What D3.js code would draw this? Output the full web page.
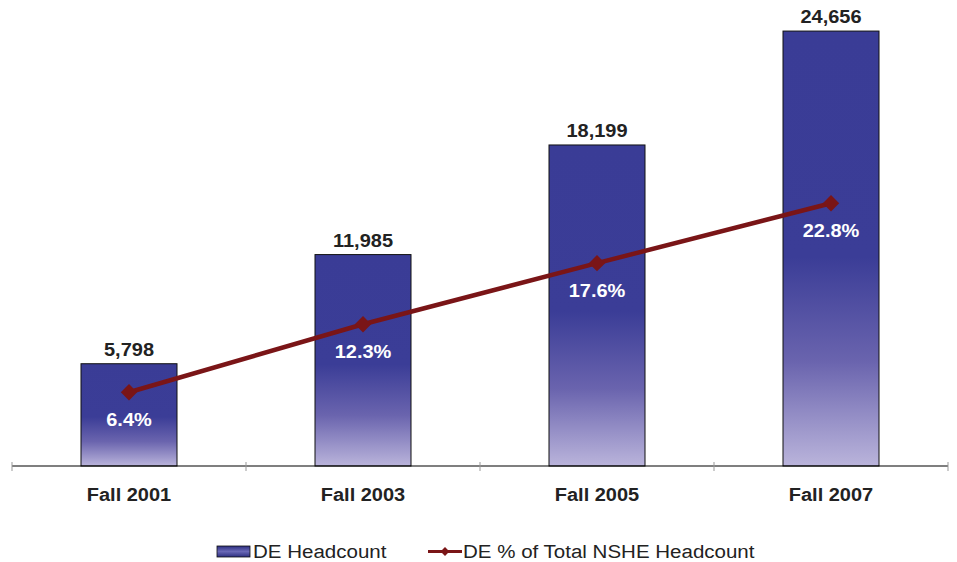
<!DOCTYPE html>
<html>
<head>
<meta charset="utf-8">
<script src="https://cdn.jsdelivr.net/npm/d3@7"></script>
<style>
  body { margin: 0; background: #fff; }
  text { font-family: Arial, "Liberation Sans", sans-serif; }
</style>
</head>
<body>
<div id="chart"></div>
<script>
// data
const categories = ["Fall 2001", "Fall 2003", "Fall 2005", "Fall 2007"];
const headcount = [5798, 11985, 18199, 24656];
const pctOfTotal = [6.4, 12.3, 17.6, 22.8];

const width = 957, height = 562;
const left = 12, right = 948, base = 466;
const stretch = 1.08; // the original text is a bit wide

const svg = d3.select("#chart").append("svg")
    .attr("width", width)
    .attr("height", height);

const x = d3.scaleBand()
    .domain(categories)
    .range([left, right])
    .paddingInner(0)
    .paddingOuter(0);

const y = d3.scaleLinear().domain([0, 25000]).range([base, 25]);
const y2 = d3.scaleLinear().domain([0, 40]).range([base, 5]);

const cx = (d, i) => x(categories[i]) + x.bandwidth() / 2;
const at = (px, py) => `translate(${px},${py}) scale(${stretch},1)`;

const defs = svg.append("defs");
const grad = defs.append("linearGradient")
    .attr("id", "barFill")
    .attr("x1", 0).attr("y1", 0).attr("x2", 0).attr("y2", 1);
grad.append("stop").attr("offset", "0%").attr("stop-color", "#3a3c96");
grad.append("stop").attr("offset", "52%").attr("stop-color", "#3b3d97");
grad.append("stop").attr("offset", "76%").attr("stop-color", "#6a64ae");
grad.append("stop").attr("offset", "100%").attr("stop-color", "#bab4db");

const legGrad = defs.append("linearGradient")
    .attr("id", "legFill")
    .attr("x1", 0).attr("y1", 0).attr("x2", 0).attr("y2", 1);
legGrad.append("stop").attr("offset", "0%").attr("stop-color", "#2c2e80");
legGrad.append("stop").attr("offset", "50%").attr("stop-color", "#6a68b6");
legGrad.append("stop").attr("offset", "100%").attr("stop-color", "#2c2e80");

const barW = 96;

// bars
svg.append("g")
  .selectAll("rect")
  .data(headcount)
  .join("rect")
    .attr("x", (d, i) => cx(d, i) - barW / 2)
    .attr("y", d => y(d))
    .attr("width", barW)
    .attr("height", d => base - y(d))
    .attr("fill", "url(#barFill)")
    .attr("stroke", "#111")
    .attr("stroke-width", 1);

// value labels
svg.append("g")
  .selectAll("text")
  .data(headcount)
  .join("text")
    .attr("transform", (d, i) => at(cx(d, i), y(d) - 8))
    .attr("text-anchor", "middle")
    .attr("font-size", 18.5)
    .attr("font-weight", "bold")
    .attr("fill", "#222")
    .text(d => d3.format(",")(d));

// axis
const axis = svg.append("g");
axis.append("line")
    .attr("x1", left).attr("x2", right)
    .attr("y1", base).attr("y2", base)
    .attr("stroke", "#000").attr("stroke-width", 1.2);
const tickXs = categories.map(c => x(c)).concat([x(categories[categories.length - 1]) + x.bandwidth()]);
axis.selectAll(".tick")
  .data(tickXs)
  .join("line")
    .attr("class", "tick")
    .attr("x1", d => d).attr("x2", d => d)
    .attr("y1", base - 4).attr("y2", base + 5)
    .attr("stroke", "#999").attr("stroke-width", 1);
axis.selectAll(".cat")
  .data(categories)
  .join("text")
    .attr("class", "cat")
    .attr("transform", d => at(x(d) + x.bandwidth() / 2, 501))
    .attr("text-anchor", "middle")
    .attr("font-size", 18.5)
    .attr("font-weight", "bold")
    .attr("fill", "#222")
    .text(d => d);

// line series
const lineColor = "#7a1517";
const line = d3.line()
    .x((d, i) => cx(d, i))
    .y(d => y2(d));

svg.append("path")
    .datum(pctOfTotal)
    .attr("d", line)
    .attr("fill", "none")
    .attr("stroke", lineColor)
    .attr("stroke-width", 4.5);

const diamond = d3.symbol().type(d3.symbolDiamond2).size(170);
svg.append("g")
  .selectAll("path")
  .data(pctOfTotal)
  .join("path")
    .attr("transform", (d, i) => `translate(${cx(d, i)},${y2(d)})`)
    .attr("d", diamond)
    .attr("fill", lineColor);

svg.append("g")
  .selectAll("text")
  .data(pctOfTotal)
  .join("text")
    .attr("transform", (d, i) => at(cx(d, i), y2(d) + 34))
    .attr("text-anchor", "middle")
    .attr("font-size", 18.5)
    .attr("font-weight", "bold")
    .attr("fill", "#fff")
    .text(d => d.toFixed(1) + "%");

// legend
const leg = svg.append("g").attr("transform", "translate(0,551.5)");
leg.append("rect")
    .attr("x", 217).attr("y", -5.5)
    .attr("width", 33).attr("height", 11)
    .attr("fill", "url(#legFill)")
    .attr("stroke", "#111").attr("stroke-width", 0.8);
leg.append("text")
    .attr("transform", at(253, 6))
    .attr("font-size", 19)
    .attr("fill", "#222")
    .text("DE Headcount");
leg.append("line")
    .attr("x1", 428).attr("x2", 462)
    .attr("y1", 0).attr("y2", 0)
    .attr("stroke", lineColor).attr("stroke-width", 3);
leg.append("path")
    .attr("transform", "translate(445,0)")
    .attr("d", d3.symbol().type(d3.symbolDiamond2).size(50))
    .attr("fill", lineColor);
leg.append("text")
    .attr("transform", at(463, 6))
    .attr("font-size", 19)
    .attr("fill", "#222")
    .text("DE % of Total NSHE Headcount");
</script>
</body>
</html>
